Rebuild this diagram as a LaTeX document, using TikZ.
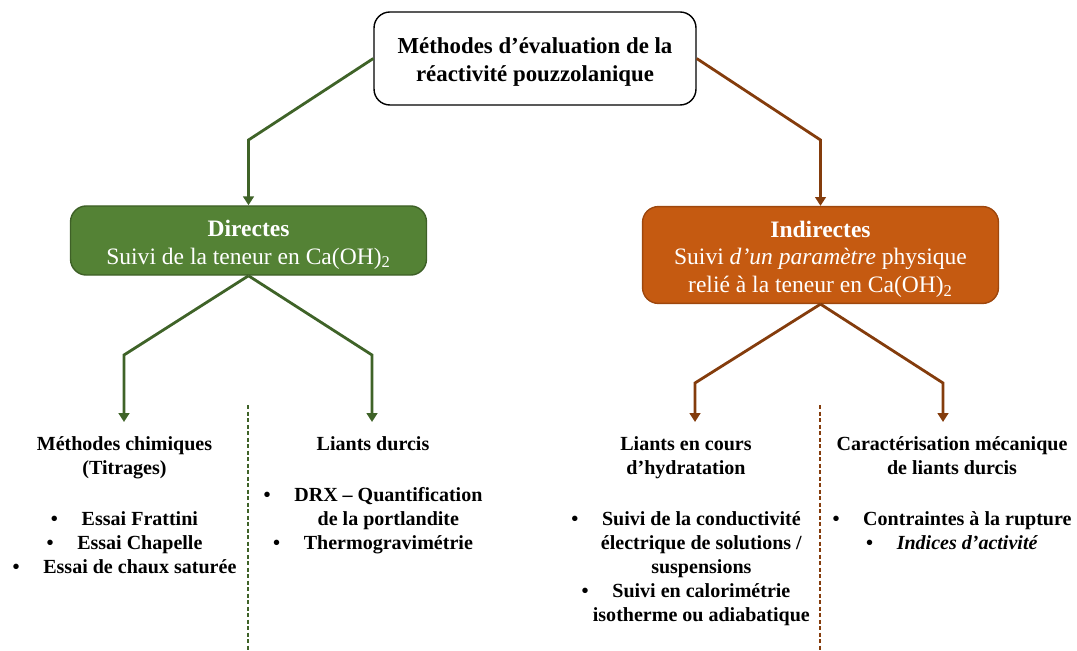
\documentclass[tikz,border=0pt]{standalone}
\usepackage{fontspec}
\setmainfont{Liberation Serif}
\usetikzlibrary{arrows.meta}

\definecolor{vertFond}{HTML}{548235}
\definecolor{vertBord}{HTML}{3E6027}
\definecolor{vertTrait}{HTML}{3F6328}
\definecolor{orangeFond}{HTML}{C55A11}
\definecolor{orangeBord}{HTML}{9E470D}
\definecolor{brunTrait}{HTML}{843C0C}

\newlength{\pucew}
\setlength{\pucew}{17.5pt}
\newcommand{\puce}{\makebox[\pucew][l]{\textbullet}}
\newcommand{\suite}{\hspace*{\pucew}}

\begin{document}
\begin{tikzpicture}[x=0.02cm, y=-0.02cm,
    racine/.style={draw=black, line width=0.8pt, rounded corners=9pt, fill=white,
        minimum width=6.44cm, minimum height=1.86cm, align=center,
        font=\fontsize{13}{16.2}\selectfont\bfseries},
    boite/.style={line width=0.8pt, rounded corners=9pt, text=white, align=center,
        minimum width=7.12cm, font=\fontsize{13.4}{15.8}\selectfont},
    colonne/.style={anchor=north, align=center, inner xsep=0pt, inner ysep=8.3pt,
        font=\fontsize{11.4}{13.6}\selectfont\bfseries},
    lienVert/.style={vertTrait, line width=1.6pt, -{Triangle[width=6pt,length=5pt]}},
    lienBrun/.style={brunTrait, line width=1.6pt, -{Triangle[width=6pt,length=5pt]}},
    separation/.style={line width=0.7pt, dash pattern=on 2.5pt off 1.2pt}]
    \useasboundingbox (0,0) rectangle (1077,651);

    \node[racine] (methodes) at (535,58.5) {\rule{0pt}{13pt}Méthodes d’évaluation de la\\réactivité pouzzolanique};
    \node[boite, draw=vertBord, fill=vertFond, minimum height=1.3cm] (directes) at (248.5,240.5)
        {\rule{0pt}{14pt}\textbf{Directes}\\Suivi de la teneur en Ca(OH)\textsubscript{2}};
    \node[boite, draw=orangeBord, fill=orangeFond, minimum height=1.88cm] (indirectes) at (820.5,255)
        {\rule{0pt}{14pt}\textbf{Indirectes}\\Suivi \textit{d’un paramètre} physique\\relié à la teneur en Ca(OH)\textsubscript{2}};

    \node[colonne] (chimiques) at (124.5,422) {Méthodes chimiques\\(Titrages)\\[15.5pt]
        \puce Essai Frattini\\\puce Essai Chapelle\\\puce Essai de chaux saturée};
    \node[colonne] (durcis) at (373,422) {Liants durcis\\[15.5pt]
        \puce DRX – Quantification\\\suite de la portlandite\\\puce Thermogravimétrie};
    \node[colonne] (hydratation) at (686,422) {Liants en cours\\d’hydratation\\[15.5pt]
        \puce Suivi de la conductivité\\\suite électrique de solutions /\\\suite suspensions\\
        \puce Suivi en calorimétrie\\\suite isotherme ou adiabatique};
    \node[colonne] (mecanique) at (952,422) {Caractérisation mécanique\\de liants durcis\\[15.5pt]
        \puce Contraintes à la rupture\\\puce \textit{Indices d’activité}};

    \coordinate (coudeDirectes) at (248.5,140);
    \coordinate (coudeIndirectes) at (820.5,140);
    \coordinate (coudeChimiques) at (124,355);
    \coordinate (coudeDurcis) at (372,355);
    \coordinate (coudeHydratation) at (695,383);
    \coordinate (coudeMecanique) at (943,383);


\draw[lienVert] (methodes.west) -- (coudeDirectes) -- (directes.north);
\draw[lienBrun] (methodes.east) -- (coudeIndirectes) -- (indirectes.north);
\draw[lienVert] (directes.south) -- (coudeChimiques) -- (coudeChimiques |- chimiques.north);
\draw[lienVert] (directes.south) -- (coudeDurcis) -- (coudeDurcis |- durcis.north);
\draw[lienBrun] (indirectes.south) -- (coudeHydratation) -- (coudeHydratation |- hydratation.north);
\draw[lienBrun] (indirectes.south) -- (coudeMecanique) -- (coudeMecanique |- mecanique.north);

\draw[separation, vertTrait] (248,405) -- (248,651);
\draw[separation, brunTrait] (820,405) -- (820,651);

\end{tikzpicture}
\end{document}
